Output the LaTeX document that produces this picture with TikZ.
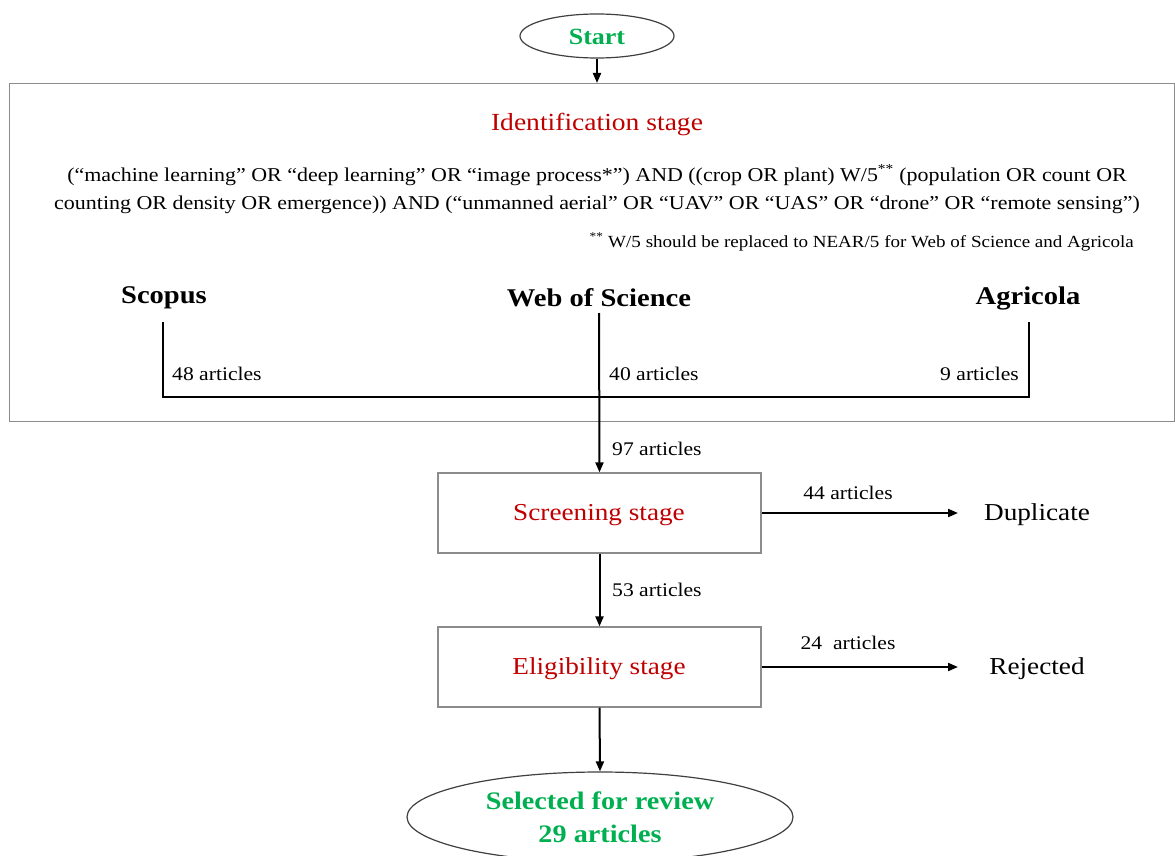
\documentclass[tikz,border=0pt]{standalone}
\usepackage{fontspec}
\setmainfont[FakeStretch=1.12]{Liberation Serif}
\usetikzlibrary{arrows.meta,shapes.geometric}
\definecolor{stgreen}{RGB}{0,176,80}
\definecolor{stred}{RGB}{192,0,0}
\definecolor{boxgray}{RGB}{140,140,140}
\tikzset{
  px/.style={x=1pt,y=-1pt},
  oval/.style={ellipse,draw=black!75,line width=1.2pt,inner sep=0pt},
  stagebox/.style={draw=boxgray,line width=1.2pt,inner sep=0pt},
  conn/.style={line width=2pt,black},
  arr/.style={conn,-{Triangle[length=10pt,width=8pt]}},
  cnt/.style={font=\fontsize{19.3}{21}\selectfont,inner sep=0pt},
  src/.style={font=\fontsize{25.5}{28}\selectfont\bfseries,inner sep=0pt},
  stagetxt/.style={font=\fontsize{24.3}{28}\selectfont,text=stred,inner sep=0pt},
  outtxt/.style={font=\fontsize{24.3}{28}\selectfont,inner sep=0pt},
}
\begin{document}
\begin{tikzpicture}[px]
\useasboundingbox (0,0) rectangle (1175,856);
\clip (0,0) rectangle (1175,856);
\fill[white] (0,0) rectangle (1175,856);
% Start
\node[oval,minimum width=154pt,minimum height=44pt] (start) at (597,36) {};
\node[font=\fontsize{23.2}{26}\selectfont\bfseries,text=stgreen,inner sep=0pt] (starttxt) at (597,37) {Start};
% Identification box
\node[stagebox,minimum width=1165pt,minimum height=338pt,anchor=north west] (ident) at (9,83) {};
\draw[arr] (start.south) -- (ident.north -| start.south);
\node[font=\fontsize{24.6}{28}\selectfont,text=stred,inner sep=0pt] (identtxt) at (597,124) {Identification stage};
\node[font=\fontsize{19.6}{28}\selectfont,align=center,inner sep=0pt] (query) at (597,189)
 {(“machine learning” OR “deep learning” OR “image process*”) AND ((crop OR plant) W/5\textsuperscript{**} (population OR count OR\\
 counting OR density OR emergence)) AND (“unmanned aerial” OR “UAV” OR “UAS” OR “drone” OR “remote sensing”)};
\node[font=\fontsize{17}{18}\selectfont,anchor=east,inner sep=0pt] (note) at (1134,242)
 {\textsuperscript{**} W/5 should be replaced to NEAR/5 for Web of Science and Agricola};
% Sources
\node[src] (scopus) at (164,298) {Scopus};
\node[src] (wos) at (599,298) {Web of Science};
\node[src] (agri) at (1028,298) {Agricola};
\coordinate (scopusTop) at (163,322);
\coordinate (wosTop) at (599,313);
\coordinate (agriTop) at (1029,322);
\coordinate (scopusBot) at (163,397);
\coordinate (agriBot) at (1029,397);
\draw[conn] (scopusTop) -- (scopusBot) -- (agriBot) -- (agriTop);
\node[cnt,anchor=west] (n48) at (172,374) {48 articles};
\node[cnt,anchor=west] (n40) at (609,374) {40 articles};
\node[cnt,anchor=east] (n9) at (1019,374) {9 articles};
% Screening
\node[stagebox,minimum width=323pt,minimum height=80pt] (screen) at (599.5,513) {};
\node[stagetxt] (screentxt) at (599,515) {Screening stage};
\draw[arr] (wosTop) -- (screen.north);
\node[cnt,anchor=west] (n97) at (612,449) {97 articles};
\node[outtxt] (dup) at (1037,515) {Duplicate};
\coordinate (dupEnd) at (958,513);
\draw[arr] (screen.east) -- (dupEnd);
\node[cnt] (n44) at (848,493) {44 articles};
% Eligibility
\node[stagebox,minimum width=323pt,minimum height=80pt] (elig) at (599.5,667) {};
\node[stagetxt] (eligtxt) at (599,669) {Eligibility stage};
\draw[arr] (screen.south) -- (elig.north);
\node[cnt,anchor=west] (n53) at (612,590) {53 articles};
\node[outtxt] (rej) at (1037,669) {Rejected};
\coordinate (rejEnd) at (958,667);
\draw[arr] (elig.east) -- (rejEnd);
\node[cnt] (n24) at (848,643) {24\ \ articles};
% Selected
\node[oval,minimum width=386pt,minimum height=90pt] (sel) at (600,817) {};
\node[font=\fontsize{25.2}{33}\selectfont\bfseries,text=stgreen,align=center,inner sep=0pt] (seltxt) at (600,817) {Selected for review\\29 articles};
\draw[arr] (elig.south) -- (sel.north);
\end{tikzpicture}
\end{document}
